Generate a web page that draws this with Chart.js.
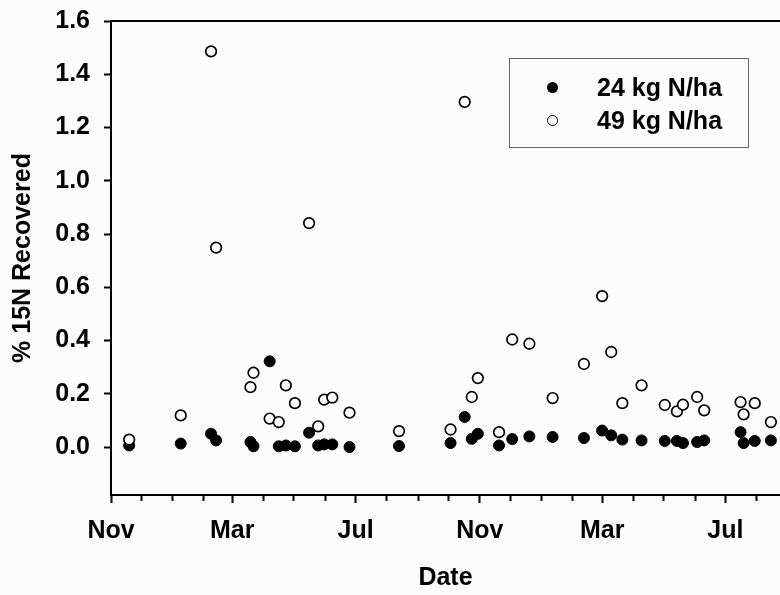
<!DOCTYPE html>
<html>
<head>
<meta charset="utf-8">
<script src="https://cdn.jsdelivr.net/npm/chart.js@4.4.0/dist/chart.umd.min.js"></script>
<style>
body{margin:0;background:#fcfcfc;}
#wrap{position:relative;width:780px;height:595px;}
#legend{position:absolute;left:509px;top:58px;width:240px;height:90px;border:1px solid #666;box-sizing:border-box;}
.lg{position:absolute;font:bold 25px "Liberation Sans",Arial,sans-serif;line-height:25px;color:#000;white-space:nowrap;}
.mk{position:absolute;width:11px;height:11px;border-radius:50%;box-sizing:border-box;}
</style>
</head>
<body>
<div id="wrap">
<canvas id="myChart" width="780" height="595"></canvas>
<div id="legend"></div>
</div>
<script>
// sampling dates and % 15N recovered for both rates
const dates = ['2002-11-19','2003-01-09','2003-02-08','2003-02-13','2003-03-19','2003-03-22','2003-04-07','2003-04-16','2003-04-23','2003-05-02',
  '2003-05-16','2003-05-25','2003-05-31','2003-06-08','2003-06-25','2003-08-13','2003-10-03','2003-10-17','2003-10-24','2003-10-30',
  '2003-11-20','2003-12-03','2003-12-20','2004-01-12','2004-02-12','2004-03-01','2004-03-10','2004-03-21','2004-04-09','2004-05-02',
  '2004-05-14','2004-05-20','2004-06-03','2004-06-10','2004-07-16','2004-07-19','2004-07-30','2004-08-15'];
const n24 = [0.006,0.013,0.05,0.025,0.019,0.003,0.322,0.003,0.006,0.003,
  0.054,0.006,0.01,0.01,0.0,0.004,0.015,0.113,0.031,0.05,
  0.006,0.03,0.04,0.038,0.034,0.062,0.044,0.028,0.025,0.023,
  0.023,0.015,0.019,0.025,0.056,0.015,0.023,0.025];
const n49 = [0.028,0.119,1.486,0.749,0.225,0.279,0.107,0.094,0.232,0.165,
  0.841,0.078,0.178,0.186,0.129,0.06,0.066,1.296,0.188,0.259,
  0.056,0.404,0.388,0.184,0.312,0.567,0.357,0.165,0.232,0.158,
  0.134,0.159,0.188,0.138,0.169,0.123,0.165,0.094];
const seriesNames = ['24 kg N/ha', '49 kg N/ha'];
const yTicks = [0, 0.2, 0.4, 0.6, 0.8, 1.0, 1.2, 1.4, 1.6];
const monthNames = ['Jan','Feb','Mar','Apr','May','Jun','Jul','Aug','Sep','Oct','Nov','Dec'];
const labelledMonths = ['Nov','Mar','Jul'];
const xStart = '2002-11-01';
const xEnd = 662; // days after xStart where the axis is cut

function toUTC(s){
  var p = s.split('-').map(Number);
  return Date.UTC(p[0], p[1]-1, p[2]);
}
const t0 = toUTC(xStart);
function dayOf(s){ return (toUTC(s) - t0) / 864e5; }

// one tick at the start of every month
var monthTicks = [];
var y0 = 2002, m0 = 10;
for (var k = 0; ; k++) {
  var yy = y0 + Math.floor((m0 + k) / 12), mm = (m0 + k) % 12;
  var d = (Date.UTC(yy, mm, 1) - t0) / 864e5;
  if (d > xEnd) break;
  monthTicks.push({day: d, name: monthNames[mm]});
}
function tickName(v){
  var t = monthTicks.find(function(m){ return Math.abs(m.day - v) < 0.01; });
  return t && labelledMonths.indexOf(t.name) >= 0 ? t.name : '';
}

const font = {family: '"Liberation Sans", Arial, sans-serif', size: 25, weight: 'bold'};

const ctx = document.getElementById('myChart');
new Chart(ctx, {
  type: 'scatter',
  data: {
    datasets: [{
      label: seriesNames[0],
      data: dates.map(function(d, i){ return {x: dayOf(d), y: n24[i]}; }),
      pointRadius: 5.5,
      backgroundColor: '#000',
      borderColor: '#000',
      borderWidth: 1,
      order: 2
    }, {
      label: seriesNames[1],
      data: dates.map(function(d, i){ return {x: dayOf(d), y: n49[i]}; }),
      pointRadius: 5.3,
      backgroundColor: '#fff',
      borderColor: '#000',
      borderWidth: 1.7,
      order: 1
    }]
  },
  options: {
    responsive: false,
    animation: false,
    layout: {padding: 0, autoPadding: false},
    plugins: {legend: {display: false}, tooltip: {enabled: false}},
    scales: {
      x: {
        type: 'linear', position: 'bottom', min: 0, max: xEnd,
        afterBuildTicks: function(s){ s.ticks = monthTicks.map(function(m){ return {value: m.day}; }); },
        afterFit: function(s){ s.height = 100; s.paddingLeft = 0; s.paddingRight = 0; },
        ticks: {autoSkip: false, maxRotation: 0, padding: 13, color: '#000', font: font,
          callback: function(v){ return tickName(v); }},
        grid: {drawOnChartArea: false, tickLength: 8, color: '#000', tickWidth: 2,
          tickBorderDash: function(c){ return tickName(c.tick.value) ? [] : [5, 30]; }},
        border: {color: '#000', width: 2},
        title: {display: true, text: 'Date', color: '#000', font: font, padding: {top: 0, bottom: 2}}
      },
      x2: {
        type: 'linear', position: 'top', min: 0, max: xEnd,
        afterFit: function(s){ s.height = 21; s.paddingLeft = 0; s.paddingRight = 0; },
        ticks: {display: false},
        grid: {display: false},
        border: {display: true, color: '#000', width: 2}
      },
      y: {
        min: -0.18, max: 1.6,
        afterBuildTicks: function(s){ s.ticks = yTicks.map(function(v){ return {value: v}; }); },
        afterFit: function(s){ s.width = 111; s.paddingTop = 0; s.paddingBottom = 0; },
        ticks: {color: '#000', padding: 14, font: font, callback: function(v){ return v.toFixed(1); }},
        grid: {drawOnChartArea: false, tickLength: 7, color: '#000', tickWidth: 2},
        border: {color: '#000', width: 2},
        title: {display: true, text: '% 15N Recovered', color: '#000', font: font, padding: {top: 8, bottom: 0}}
      }
    }
  }
});

// legend box inside the plot
var lg = document.getElementById('legend');
lg.innerHTML =
  '<div class="mk" style="left:37px;top:23px;background:#000;"></div>' +
  '<div class="lg" style="left:87px;top:16px;">' + seriesNames[0] + '</div>' +
  '<div class="mk" style="left:37px;top:56px;background:#fff;border:1.6px solid #000;"></div>' +
  '<div class="lg" style="left:87px;top:49px;">' + seriesNames[1] + '</div>';
</script>
</body>
</html>
